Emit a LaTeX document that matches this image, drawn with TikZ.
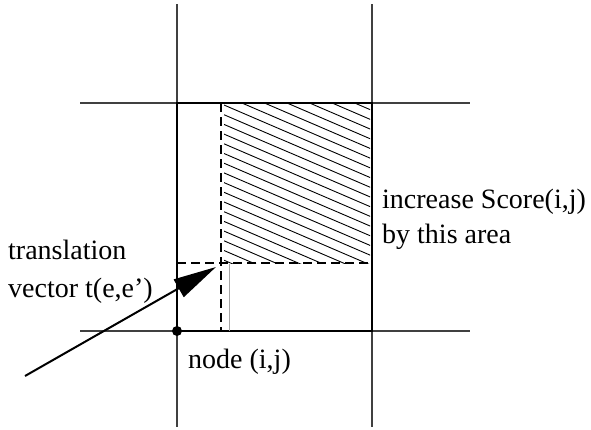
\documentclass[tikz,border=0pt]{standalone}
\usepackage{fontspec}
\setmainfont{Liberation Serif}
\usetikzlibrary{arrows.meta}
\begin{document}
\begin{tikzpicture}[x=1pt,y=-1pt,
  gridline/.style={line width=1.1pt, black!75},
  boxline/.style={line width=2pt, black},
  dashline/.style={line width=1.1pt, black, dash pattern=on 9pt off 5pt},
  hatchline/.style={line width=0.9pt, black},
  lbl/.style={font=\fontsize{28}{34}\selectfont, anchor=base west, inner sep=0pt, text=black},
  bigarrow/.style={line width=2pt, -{Triangle[length=43pt,width=20pt]}}]
\useasboundingbox (0,0) rectangle (591,429);
% coordinates
\coordinate (TL) at (177,103);
\coordinate (TR) at (372,103);
\coordinate (BL) at (177,331);
\coordinate (BR) at (372,331);
% grid lines
\draw[gridline] (177,4) -- (177,427);
\draw[gridline] (372,4) -- (372,427);
\draw[gridline] (80,103) -- (470,103);
\draw[gridline] (80,331) -- (470,331);
% hatching
\begin{scope}
  \clip (224,104) rectangle (370,263);
  \foreach \k in {-10,...,17}
    \draw[hatchline] (224,105+\k*9.7) -- ++(160,68.8);
\end{scope}
% square
\draw[boxline] (BL) -- (TL) -- (TR) -- (BR) -- cycle;
% dashed lines
\draw[dashline] (221,103) -- (221,331);
\draw[dashline] (177,263) -- (372,263);
% gray line
\draw[line width=1pt, black!35] (229,264) -- (229,331);
% node dot
\fill (BL) circle (5pt);
% arrow
\coordinate (AS) at (25,376);
\coordinate (AT) at (216,267);
\draw[bigarrow] (AS) -- (AT);
% labels
\node[lbl] (t1) at (8,259) {translation};
\node[lbl] (t2) at (8,297) {vector t(e,e’)};
\node[lbl] (s1) at (382,208) {increase Score(i,j)};
\node[lbl] (s2) at (382,243) {by this area};
\node[lbl] (nd) at (188,368) {node (i,j)};
\end{tikzpicture}
\end{document}
